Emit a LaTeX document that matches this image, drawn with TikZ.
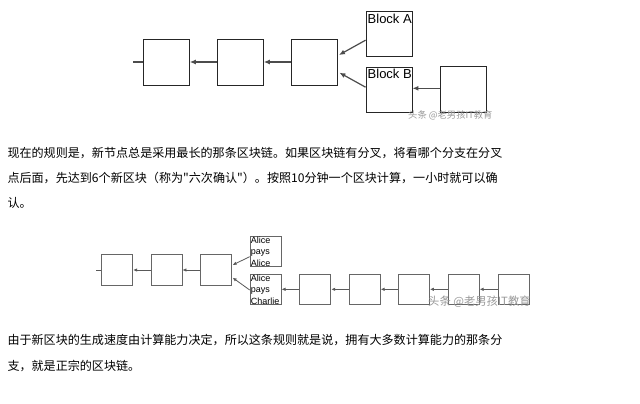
\documentclass[tikz,border=0pt]{standalone}
\usepackage{fontspec}
\setmainfont{Liberation Sans}
\newfontfamily\cjk{Noto Sans CJK SC}
\usetikzlibrary{arrows.meta,calc}
\begin{document}
\begin{tikzpicture}[x=1pt,y=-1pt,
  bigblk/.style={draw=black!85,line width=0.9pt,minimum width=46pt,minimum height=46pt,inner sep=0pt,rectangle},
  smallblk/.style={draw=black!60,line width=0.8pt,minimum width=31pt,minimum height=30.5pt,inner sep=0pt,rectangle},
  link/.style={draw=black!70,line width=1.2pt,-{Latex[length=6pt,width=5pt]}},
  slink/.style={draw=black!65,line width=0.8pt,-{Latex[length=4pt,width=3.5pt]}},
  stub/.style={draw=black!70,line width=1.2pt},
  sstub/.style={draw=black!65,line width=0.8pt},
  blabel/.style={anchor=base west,inner sep=0pt,font=\fontsize{13}{15}\selectfont},
  tlabel/.style={anchor=north west,inner sep=0pt,align=left,font=\fontsize{9}{11.3}\selectfont},
  para/.style={anchor=west,inner sep=0pt,font=\cjk\fontsize{12.07}{14}\selectfont,text=black},
  wm/.style={anchor=west,inner sep=0pt,text=black!40}
]
\useasboundingbox[fill=white] (0,0) rectangle (640,404);

% ---------- top diagram ----------
\node[bigblk] (t1) at (166.3,62) {};
\node[bigblk] (t2) at (240.3,62) {};
\node[bigblk] (t3) at (314.5,62) {};
\node[bigblk,minimum height=45pt] (ba) at (389,34.2) {};
\node[bigblk,minimum height=45pt] (bb) at (389,90.2) {};
\node[bigblk] (t4) at (463.7,89.7) {};
\node[blabel] (bal) at (367.5,23.3) {Block A};
\node[blabel] (bbl) at (367.5,78.8) {Block B};
\coordinate (tstub) at (133,62);
\draw[stub] (tstub) -- (t1.west);
\draw[link] (t2.west) -- (t1.east);
\draw[link] (t3.west) -- (t2.east);
\draw[link] ($(ba.west)+(0,6)$) -- ($(t3.east)+(1,-7)$);
\draw[link] ($(bb.west)+(0,-3)$) -- ($(t3.east)+(1.5,10.7)$);
\draw[link] ($(t4.west)+(0,-1.4)$) -- ($(bb.east)+(0,-1.9)$);
\node[wm,font=\cjk\fontsize{9.3}{10}\selectfont] (wm1) at (408,115) {头条 @老男孩IT教育};

% ---------- paragraph 1 ----------
\node[para] (p1) at (7.3,153.3) {现在的规则是，新节点总是采用最长的那条区块链。如果区块链有分叉，将看哪个分支在分叉};
\node[para] (p2) at (7.3,178.3) {点后面，先达到6个新区块（称为"六次确认"）。按照10分钟一个区块计算，一小时就可以确};
\node[para] (p3) at (7.3,203.3) {认。};

% ---------- bottom diagram ----------
\node[smallblk] (s1) at (117.2,270) {};
\node[smallblk] (s2) at (166.5,270) {};
\node[smallblk] (s3) at (216.2,270) {};
\node[smallblk] (aa) at (265.6,251.3) {};
\node[smallblk] (ac) at (265.6,289.3) {};
\node[smallblk] (s5) at (315.3,289.3) {};
\node[smallblk] (s6) at (364.7,289.3) {};
\node[smallblk] (s7) at (414,289.3) {};
\node[smallblk] (s8) at (463.7,289.3) {};
\node[smallblk] (s9) at (513.5,289.3) {};
\node[tlabel] (aat) at ($(aa.north west)+(1,1.2)$) {Alice\\pays\\Alice};
\node[tlabel] (act) at ($(ac.north west)+(1,1.2)$) {Alice\\pays\\Charlie};
\coordinate (bstub) at (96,270);
\draw[sstub] (bstub) -- (s1.west);
\draw[slink] (s2.west) -- (s1.east);
\draw[slink] (s3.west) -- (s2.east);
\draw[slink] ($(aa.west)+(0,5.4)$) -- ($(s3.east)+(0.5,-5)$);
\draw[slink] ($(ac.west)+(0,0.7)$) -- ($(s3.east)+(0.5,7.7)$);
\draw[slink] (s5.west) -- (ac.east);
\draw[slink] (s6.west) -- (s5.east);
\draw[slink] (s7.west) -- (s6.east);
\draw[slink] (s8.west) -- (s7.east);
\draw[slink] (s9.west) -- (s8.east);
\node[wm,font=\cjk\fontsize{11.3}{12}\selectfont] (wm2) at (428,301.7) {头条 @老男孩IT教育};

% ---------- paragraph 2 ----------
\node[para] (q1) at (7.3,340) {由于新区块的生成速度由计算能力决定，所以这条规则就是说，拥有大多数计算能力的那条分};
\node[para] (q2) at (7.3,366.5) {支，就是正宗的区块链。};
\end{tikzpicture}
\end{document}
